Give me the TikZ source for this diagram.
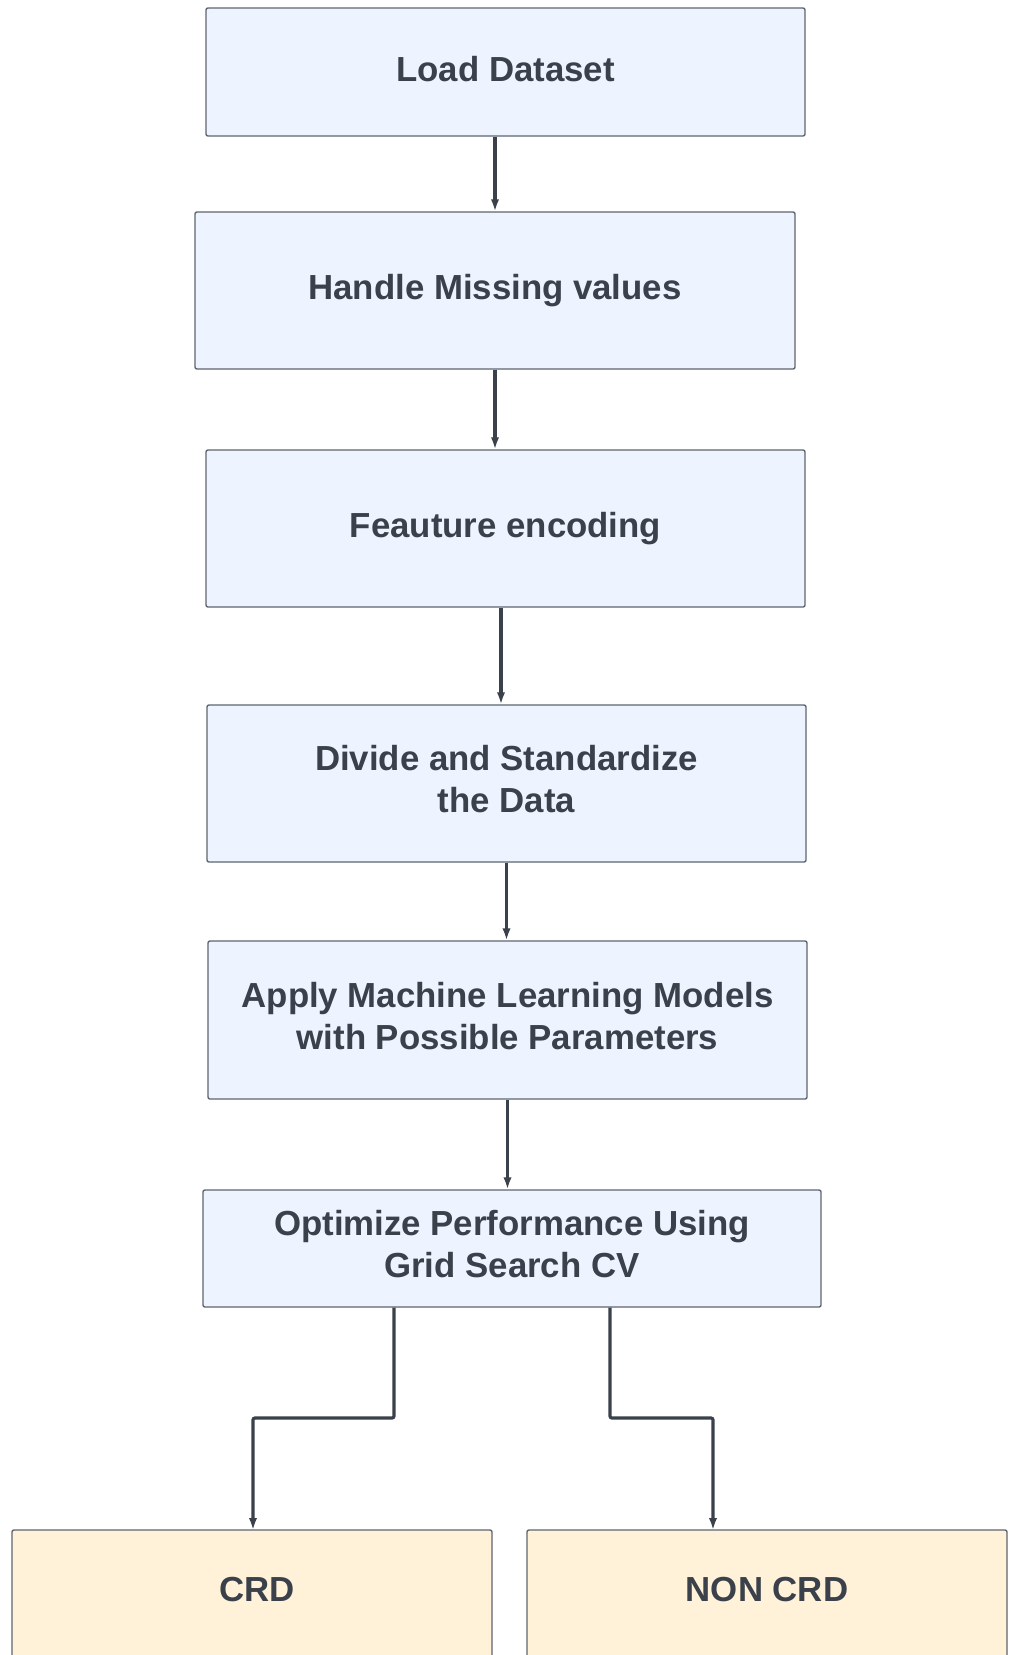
\documentclass[tikz,border=0pt]{standalone}
\usepackage{fontspec}
\setmainfont{Liberation Sans}
\usetikzlibrary{arrows.meta}
\definecolor{stepfill}{HTML}{EEF4FF}
\definecolor{endfill}{HTML}{FFF2D9}
\definecolor{inkdark}{HTML}{3A414A}
\definecolor{edgegray}{HTML}{5F6670}
\tikzset{
  flowbox/.style={draw=edgegray, line width=0.7pt, fill=stepfill, rounded corners=1pt,
    inner sep=0pt, anchor=center},
  endbox/.style={flowbox, fill=endfill},
  boxtext/.style={text=inkdark, font=\fontsize{17.4}{21}\selectfont\bfseries,
    align=center, inner sep=0pt, anchor=center},
  arr/.style={draw=inkdark, line width=1.6pt, -{Latex[length=6pt,width=4.2pt]}},
}
\begin{document}
\begin{tikzpicture}[x=0.5pt,y=-0.5pt]
\useasboundingbox (0,0) rectangle (1010,1655);
\clip (0,0) rectangle (1010,1655);
\fill[white] (0,0) rectangle (1010,1655);

% processing steps
\node[flowbox, minimum width=299.5pt, minimum height=64pt] (load) at (505.5,72) {};
\node[flowbox, minimum width=300pt, minimum height=78.5pt] (miss) at (495,290.5) {};
\node[flowbox, minimum width=299.5pt, minimum height=78.5pt] (enc) at (505.5,528.5) {};
\node[flowbox, minimum width=299.5pt, minimum height=78.5pt] (std) at (506.5,783.5) {};
\node[flowbox, minimum width=299.5pt, minimum height=79pt] (ml) at (507.5,1020) {};
\node[flowbox, minimum width=309pt, minimum height=58.5pt] (opt) at (512,1248.5) {};

\node[boxtext] (loadtxt) at ([yshift=1.5pt]load.center) {Load Dataset};
\node[boxtext] (misstxt) at (miss.center) {Handle Missing values};
\node[boxtext] (enctxt) at (enc.center) {Feauture encoding};
\node[boxtext] (stdtxt) at ([yshift=2pt]std.center) {Divide and Standardize\\the Data};
\node[boxtext] (mltxt) at ([yshift=2pt]ml.center) {Apply Machine Learning Models\\with Possible Parameters};
\node[boxtext] (opttxt) at ([yshift=2pt]opt.center) {Optimize Performance Using\\Grid Search CV};

% outcome boxes (continue below the page edge)
\node[endbox, minimum width=240pt, minimum height=80pt] (crd) at (252,1610) {};
\node[endbox, minimum width=240pt, minimum height=80pt] (noncrd) at (767,1610) {};
\node[boxtext] (crdtxt) at (257,1589) {CRD};
\node[boxtext] (noncrdtxt) at (767,1589) {NON CRD};

% connectors
\draw[arr] (load.south -| miss.north) -- (miss.north);
\draw[arr] (miss.south) -- (miss.south |- enc.north);
\draw[arr] ([xshift=-2.25pt]enc.south) -- ([xshift=-2.25pt]enc.south |- std.north);
\draw[arr] (std.south) -- (std.south |- ml.north);
\draw[arr] (ml.south) -- (ml.south |- opt.north);

\coordinate (forkL) at (394,1307);
\coordinate (forkR) at (610,1307);
\draw[arr, rounded corners=1pt] (forkL |- opt.south) -- (394,1418) -- (253,1418) -- (253,1530);
\draw[arr, rounded corners=1pt] (forkR |- opt.south) -- (610,1418) -- (713,1418) -- (713,1530);
\end{tikzpicture}
\end{document}
